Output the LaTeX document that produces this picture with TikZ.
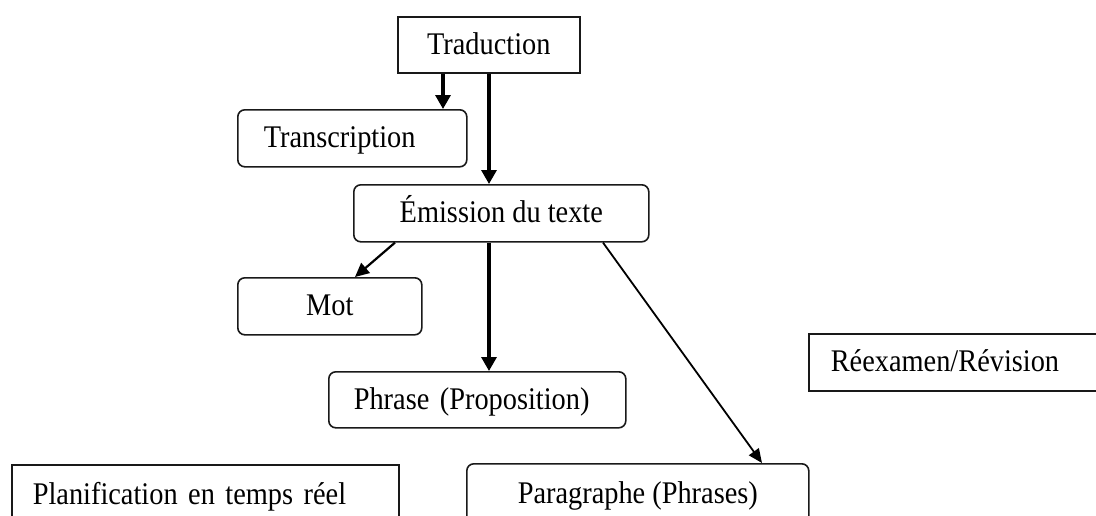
\documentclass[tikz,border=0pt]{standalone}
\usepackage{fontspec}
\setmainfont{Liberation Serif}[FakeStretch=0.9]
\usetikzlibrary{arrows.meta}
\begin{document}
\begin{tikzpicture}[x=1pt,y=-1pt,
  box/.style={draw=black!90, line width=1.6pt, inner sep=0pt, anchor=north west,
    font=\fontsize{31.5}{34}\selectfont, text height=22pt, text depth=3pt},
  rbox/.style={box, rounded corners=7pt},
  lbox/.style={align=left, inner xsep=#1},
  thickarr/.style={line width=3.2pt, -{Triangle[length=14pt,width=15pt]}},
  midarr/.style={line width=2.2pt, -{Triangle[length=14pt,width=13pt]}},
  thinarr/.style={line width=1.8pt, -{Triangle[length=14pt,width=12pt]}}]
\useasboundingbox (0,0) rectangle (1096,515);
\clip (0,0) rectangle (1096,515);
\node[box, minimum width=182pt, minimum height=56pt] (trad) at (397,16) {Traduction};
\node[rbox, lbox=26pt, text width=177pt, minimum height=57pt] (trans) at (237,109) {Transcription};
\node[rbox, minimum width=295pt, minimum height=57pt] (emis) at (353,184) {Émission du texte};
\node[rbox, minimum width=184pt, minimum height=57pt] (mot) at (237,277) {Mot};
\node[rbox, lbox=25pt, text width=247pt, minimum height=56pt] (phr) at (328,371) {Phrase (Proposition)};
\node[rbox, minimum width=342pt, minimum height=60pt] (para) at (466,463) {Paragraphe (Phrases)};
\node[box, lbox=21pt, text width=345pt, minimum height=60pt] (plan) at (11,464) {Planification en temps réel};
\node[box, lbox=22pt, text width=256pt, minimum height=57pt] (reex) at (808,333) {Réexamen/Révision};
\draw[thickarr] (443,0 |- trad.south) -- (443,0 |- trans.north);
\draw[thickarr] (489,0 |- trad.south) -- (489,0 |- emis.north);
\draw[midarr] (395,0 |- emis.south) -- (355,0 |- mot.north);
\draw[thickarr] (489,0 |- emis.south) -- (489,0 |- phr.north);
\draw[thinarr] (603,0 |- emis.south) -- (762,0 |- para.north);
\end{tikzpicture}
\end{document}
